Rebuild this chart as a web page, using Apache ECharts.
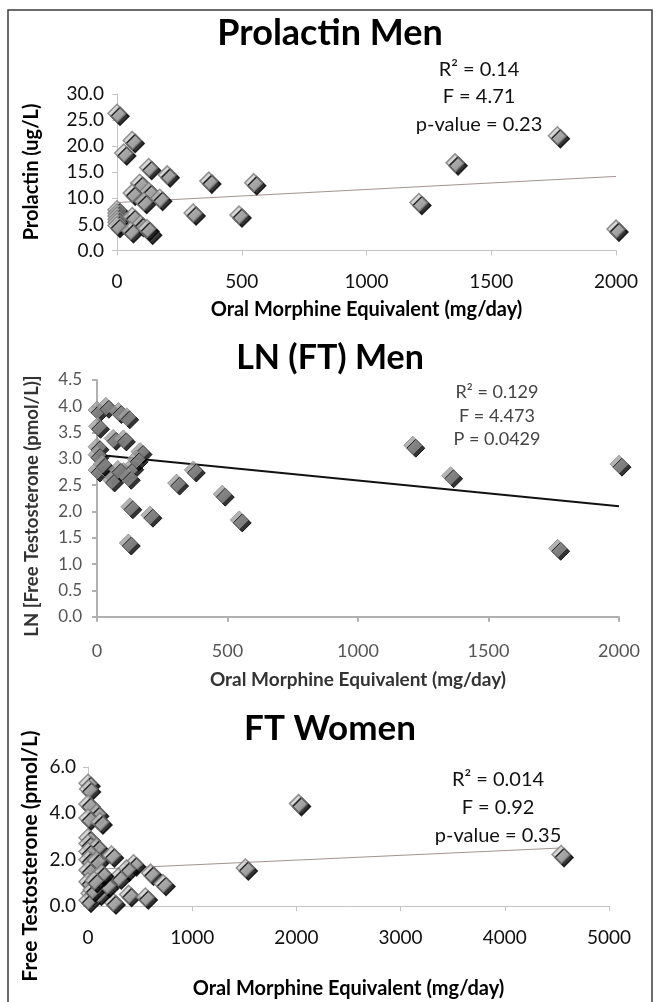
<!DOCTYPE html>
<html>
<head>
<meta charset="utf-8">
<script src="https://cdn.jsdelivr.net/npm/echarts@6/dist/echarts.min.js"></script>
<style>
html,body{margin:0;padding:0;background:#fff;}
#c{width:660px;height:1002px;}
</style>
</head>
<body>
<div id="c"></div>
<script>
// ---------- DATA ----------
const titles = ['Prolactin Men', 'LN (FT) Men', 'FT Women'];
const xNames = ['Oral Morphine Equivalent (mg/day)', 'Oral Morphine Equivalent (mg/day)', 'Oral Morphine Equivalent (mg/day)'];
const yNames = ['Prolactin (ug/L)', 'LN [Free Testosterone (pmol/L)]', 'Free Testosterone (pmol/L)'];

const p1Dose = [0, 61, 27, 127, 201, 91, 127, 61, 107, 171, 305, 368, 489, 548, 1210, 1355, 1765, 2000, 0, 0, 0, 0, 0, 0, 61, 94, 54, 131, 120];
const p1Prolactin = [26.3, 21.1, 18.7, 15.9, 14.5, 12.9, 11.3, 11.0, 9.4, 10.0, 7.2, 13.3, 6.8, 13.0, 9.2, 16.8, 22.0, 4.1, 7.8, 7.2, 6.6, 6.0, 5.4, 4.8, 6.5, 5.0, 3.8, 3.5, 4.2];
const p1TrendX = [0, 2000];
const p1TrendY = [9.2, 14.2];
const p1Stats = ['R\u00B2 = 0.14', 'F = 4.71', 'p-value = 0.23'];

const p2Dose = [0, 34, 82, 114, 2, 62, 101, 0, 0, 165, 0, 50, 56, 101, 133, 150, 305, 369, 126, 203, 120, 480, 545, 1210, 1355, 1765, 2000, 20, 80, 120];
const p2LnFT = [3.93, 4.0, 3.9, 3.8, 3.62, 3.39, 3.38, 3.23, 3.08, 3.14, 2.79, 2.73, 2.6, 2.76, 2.85, 3.0, 2.54, 2.79, 2.09, 1.93, 1.4, 2.33, 1.84, 3.26, 2.68, 1.3, 2.9, 2.9, 2.8, 2.65];
const p2TrendX = [0, 2000];
const p2TrendY = [3.08, 2.1];
const p2Stats = ['R\u00B2 = 0.129', 'F = 4.473', 'P = 0.0429'];

const p3Dose = [0, 5, 0, 83, 0, 115, 0, 0, 83, 0, 225, 0, 83, 0, 437, 370, 291, 600, 720, 0, 83, 20, 0, 240, 390, 550, 100, 180, 40, 130, 60, 2020, 1510, 4540];
const p3FT = [5.3, 5.05, 4.4, 4.0, 3.8, 3.63, 2.95, 2.7, 2.55, 2.35, 2.2, 2.0, 1.97, 1.55, 1.82, 1.6, 1.25, 1.42, 0.97, 1.05, 1.25, 0.55, 0.25, 0.17, 0.5, 0.39, 0.55, 0.9, 0.7, 1.4, 1.1, 4.42, 1.64, 2.22];
const p3TrendX = [0, 4520];
const p3TrendY = [1.57, 2.5];
const p3Stats = ['R\u00B2 = 0.014', 'F = 0.92', 'p-value = 0.35'];

const xTicks = [[0, 2000, 500], [0, 2000, 500], [0, 5000, 1000]];
const yTicks = [[0, 30, 5], [0, 4.5, 0.5], [0, 6, 2]];

// ---------- BUILD ----------
const zip = (a, b) => a.map((v, i) => [v, b[i]]);
const FONT = 'Lato, "Open Sans", sans-serif';

const grids = [
  {left: 117, top: 94, width: 499, height: 156.5},
  {left: 97, top: 380, width: 522, height: 236.7},
  {left: 88, top: 767, width: 521, height: 139}
];

const lightDiamond = {
  color: new echarts.graphic.LinearGradient(0, 0, 1, 1, [
    {offset: 0, color: '#e2e2e2'}, {offset: 1, color: '#a9a9a9'}]),
  borderColor: '#7a7a7a', borderWidth: 1.5,
  shadowColor: '#000', shadowBlur: 0, shadowOffsetX: 3, shadowOffsetY: 3
};
const darkDiamond = {
  color: new echarts.graphic.LinearGradient(0, 0, 1, 1, [
    {offset: 0, color: '#b0b0b0'}, {offset: 1, color: '#808080'}]),
  borderColor: '#8a8a8a', borderWidth: 1,
  shadowColor: '#000', shadowBlur: 0, shadowOffsetX: 3, shadowOffsetY: 3
};

const panelStyle = [
  {tick: '#111', axis: '#c4c4c4', nameColor: '#000', xFont: 19, yFont: 19, xMargin: 22, yMargin: 13, nameSize: 20, xGap: 49},
  {tick: '#555', axis: '#b0b0b0', nameColor: '#333', xFont: 18, yFont: 17, xMargin: 25, yMargin: 15, nameSize: 19, xGap: 54},
  {tick: '#111', axis: '#c4c4c4', nameColor: '#000', xFont: 19, yFont: 19, xMargin: 22, yMargin: 12, nameSize: 20, xGap: 73}
];

const xAxes = xTicks.map((t, i) => ({
  type: 'value', gridIndex: i, min: t[0], max: t[1], interval: t[2],
  name: xNames[i], nameLocation: 'middle', nameGap: panelStyle[i].xGap,
  nameTextStyle: {fontFamily: FONT, fontWeight: 'bold', fontSize: panelStyle[i].nameSize, color: panelStyle[i].nameColor},
  axisLine: {show: true, lineStyle: {color: panelStyle[i].axis, width: i === 1 ? 2 : 1}},
  axisTick: {show: true, length: 5, lineStyle: {color: panelStyle[i].axis, width: i === 1 ? 2 : 1}},
  axisLabel: {fontFamily: FONT, fontSize: panelStyle[i].xFont, color: panelStyle[i].tick, margin: panelStyle[i].xMargin,
    formatter: v => String(v)},
  splitLine: {show: false}
}));

const yAxes = yTicks.map((t, i) => ({
  type: 'value', gridIndex: i, min: t[0], max: t[1], interval: t[2],
  axisLine: {show: true, lineStyle: {color: panelStyle[i].axis, width: i === 1 ? 2 : 1}},
  axisTick: {show: true, length: 5, lineStyle: {color: panelStyle[i].axis, width: i === 1 ? 2 : 1}},
  axisLabel: {fontFamily: FONT, fontSize: panelStyle[i].yFont, color: panelStyle[i].tick, margin: panelStyle[i].yMargin,
    formatter: v => v.toFixed(1)},
  splitLine: {show: false}
}));

function scatter(i, data, style) {
  return {type: 'scatter', xAxisIndex: i, yAxisIndex: i, data: data, symbol: 'diamond', symbolSize: [18, 18],
    itemStyle: style, silent: true, z: 3};
}
function trend(i, data, color, w) {
  return {type: 'line', xAxisIndex: i, yAxisIndex: i, data: data, showSymbol: false, symbol: 'none',
    lineStyle: {color: color, width: w}, silent: true, z: 2};
}

const series = [
  trend(0, zip(p1TrendX, p1TrendY), '#a39490', 1),
  scatter(0, zip(p1Dose, p1Prolactin), lightDiamond),
  trend(1, zip(p2TrendX, p2TrendY), '#111', 2),
  scatter(1, zip(p2Dose, p2LnFT), darkDiamond),
  trend(2, zip(p3TrendX, p3TrendY), '#a39490', 1),
  scatter(2, zip(p3Dose, p3FT), lightDiamond)
];

function txt(str, x, y, font, fill, rot) {
  return {type: 'text', x: x, y: y, rotation: rot || 0, z: 10,
    style: {text: str, font: font, fill: fill, align: 'center', verticalAlign: 'middle',
      textAlign: 'center', textVerticalAlign: 'middle'}};
}

const statsPos = [
  {x: 479, ys: [70, 97, 125], font: '20px ' + FONT, fill: '#111'},
  {x: 497, ys: [392, 416, 439], font: '18px ' + FONT, fill: '#444'},
  {x: 498, ys: [780, 808, 836], font: '20px ' + FONT, fill: '#111'}
];
const allStats = [p1Stats, p2Stats, p3Stats];

const graphics = [
  {type: 'rect', shape: {x: 8, y: 10, width: 644, height: 1010}, style: {fill: 'none', stroke: '#3c3c3c', lineWidth: 1.5}, z: 1}
];
allStats.forEach((s, i) => s.forEach((line, j) => graphics.push(txt(line, statsPos[i].x, statsPos[i].ys[j], statsPos[i].font, statsPos[i].fill))));
const yNamePos = [[32, 172, 'bold 20px ' + FONT, '#000'], [32, 506, 'bold 18.5px ' + FONT, '#333'], [30, 856, 'bold 21px ' + FONT, '#000']];
yNames.forEach((n, i) => graphics.push(txt(n, yNamePos[i][0], yNamePos[i][1], yNamePos[i][2], yNamePos[i][3], Math.PI / 2)));

const titleTops = [33, 357, 728];
const titleSizes = [36, 34, 35];
const titleCfg = titles.map((t, i) => ({
  text: t, left: 'center', top: titleTops[i] - titleSizes[i] * 0.62,
  textStyle: {fontFamily: FONT, fontWeight: 'bold', fontSize: titleSizes[i], color: '#000'}
}));

const chart = echarts.init(document.getElementById('c'), null, {renderer: 'canvas'});
chart.setOption({
  backgroundColor: '#fff',
  animation: false,
  title: titleCfg,
  grid: grids,
  xAxis: xAxes,
  yAxis: yAxes,
  series: series,
  graphic: graphics
});
</script>
</body>
</html>
